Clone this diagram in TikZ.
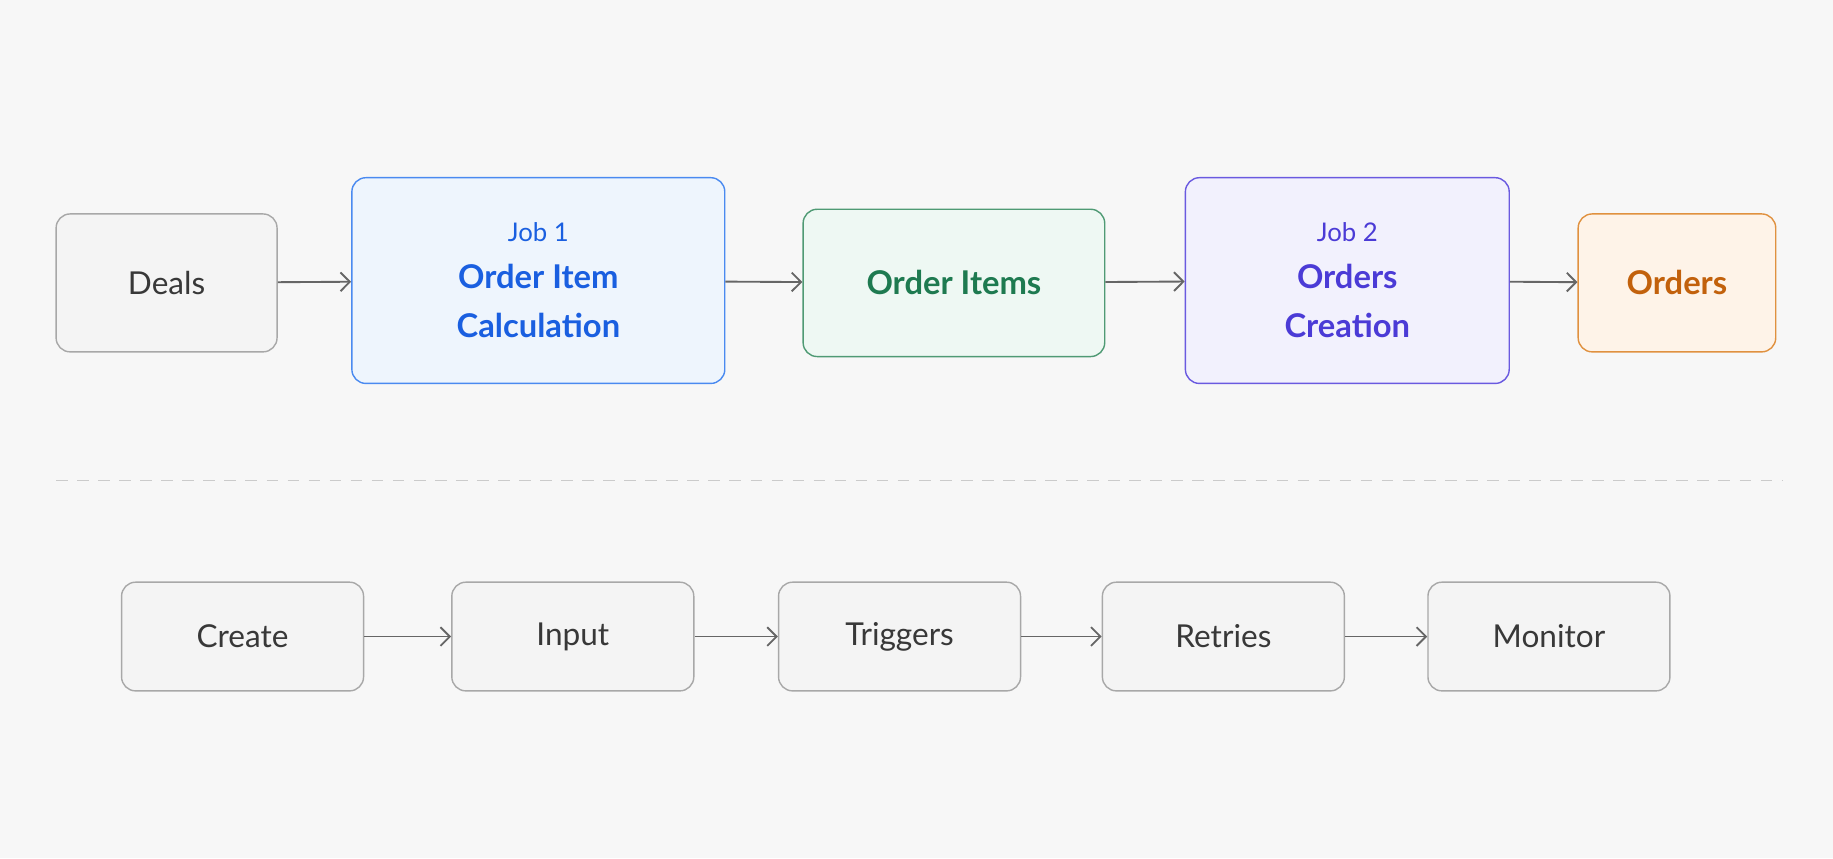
\documentclass[tikz,border=0pt]{standalone}
\usepackage{fontspec}
\setmainfont{Lato}
\usetikzlibrary{positioning}
\usetikzlibrary{arrows.meta}

\definecolor{bluetext}{HTML}{1A5FE0}
\definecolor{bluefill}{HTML}{EEF5FD}
\definecolor{blueline}{HTML}{4A8AF0}
\definecolor{greentext}{HTML}{1E7A50}
\definecolor{greenfill}{HTML}{EEF8F3}
\definecolor{greenline}{HTML}{4F9A74}
\definecolor{purpletext}{HTML}{4B3BD6}
\definecolor{purplefill}{HTML}{F2F1FD}
\definecolor{purpleline}{HTML}{6A5AE0}
\definecolor{orangetext}{HTML}{C2610C}
\definecolor{orangefill}{HTML}{FEF3E8}
\definecolor{orangeline}{HTML}{E0913F}
\definecolor{greytext}{HTML}{383838}
\definecolor{greyfill}{HTML}{F4F4F4}
\definecolor{greyline}{HTML}{A8A8A8}
\definecolor{arrowgrey}{HTML}{666666}

\begin{document}
\begin{tikzpicture}[
		x=0.5pt, y=-0.5pt,
		box/.style={
			shape=rectangle,
			draw,
			rounded corners=6pt,
			line width=0.6pt,
			align=center,
			inner sep=0pt
		},
		grey/.style={box, draw=greyline, fill=greyfill, text=greytext, font=\fontsize{13.5}{16}\selectfont},
		job/.style={box, font=\fontsize{14}{21}\selectfont\bfseries},
		flow/.style={-{Straight Barb[length=4pt,width=8pt]}, draw=arrowgrey, line width=0.8pt}
		]
		\fill[white!97!black] (0,0) rectangle (1568,734);
		\useasboundingbox (0,0) rectangle (1568,734);
		% top row
		\node[grey, minimum width=94.5pt, minimum height=59pt] (deals) at (142.5,242) {Deals};
		\node[job, draw=blueline, fill=bluefill, text=bluetext, minimum width=159.5pt, minimum height=88pt] (job1) at (460.5,240)
			{{\fontsize{11}{14}\selectfont\mdseries Job 1}\\[-1pt] Order Item\\ Calculation};
		\node[job, draw=greenline, fill=greenfill, text=greentext, minimum width=129pt, minimum height=63pt] (items) at (816,242) {Order Items};
		\node[job, draw=purpleline, fill=purplefill, text=purpletext, minimum width=138.5pt, minimum height=88pt] (job2) at (1152.5,240)
			{{\fontsize{11}{14}\selectfont\mdseries Job 2}\\[-1pt] Orders\\ Creation};
		\node[job, draw=orangeline, fill=orangefill, text=orangetext, minimum width=84.5pt, minimum height=59pt] (orders) at (1434.5,242) {Orders};
		\draw[flow] (deals) -- (job1);
		\draw[flow] (job1) -- (items);
		\draw[flow] (items) -- (job2);
		\draw[flow] (job2) -- (orders);
		% separator
		\coordinate (sepL) at (48,411);
		\coordinate (sepR) at (1525,411);
		\draw[greyline!60, line width=0.6pt, dash pattern=on 5pt off 4pt] (sepL) -- (sepR);
		% bottom row
		\foreach \name/\x/\txt in {create/207.5/Create, input/490/Input, triggers/769.5/Triggers, retries/1046.5/Retries, monitor/1325/Monitor}
			\node[grey, minimum width=103.5pt, minimum height=46.5pt] (\name) at (\x,544.5) {\txt};
		\draw[flow] (create) -- (input);
		\draw[flow] (input) -- (triggers);
		\draw[flow] (triggers) -- (retries);
		\draw[flow] (retries) -- (monitor);
	\end{tikzpicture}
\end{document}
